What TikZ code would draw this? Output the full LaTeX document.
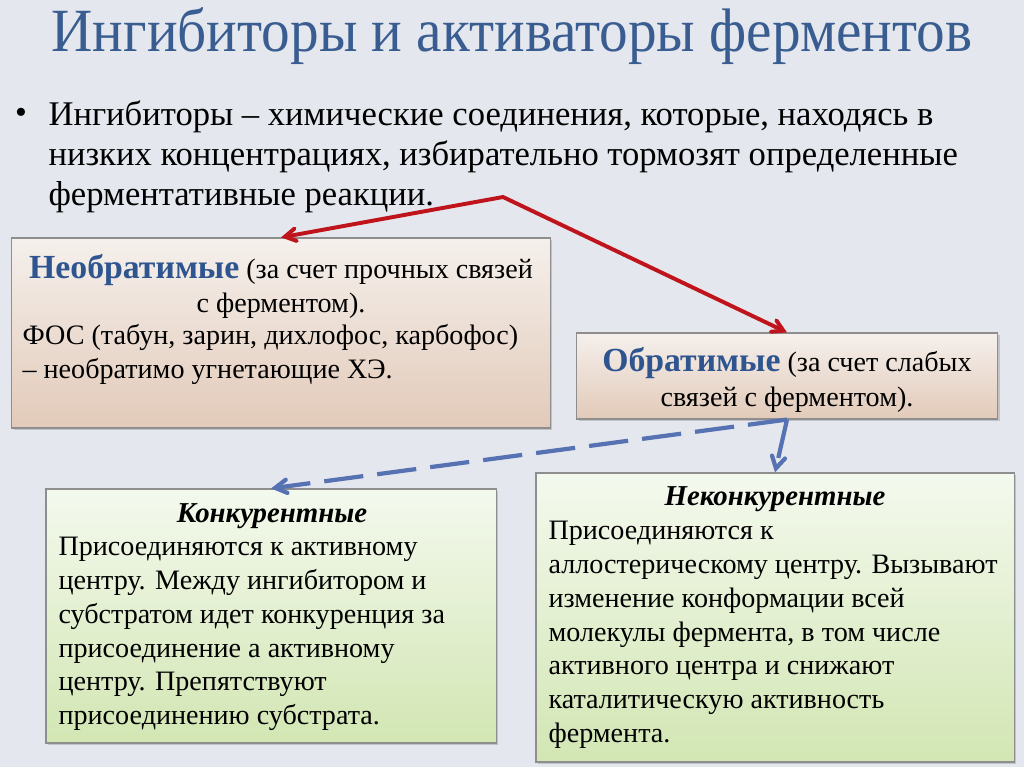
\documentclass[tikz,border=0pt]{standalone}
\usepackage{fontspec}
\setmainfont{Liberation Serif}
\usetikzlibrary{positioning,calc}
\usetikzlibrary{arrows}
\usetikzlibrary{shadows}

\definecolor{slidebg}{HTML}{E4E8EE}
\definecolor{titleblue}{HTML}{3A5D91}
\definecolor{headblue}{HTML}{2F5590}
\definecolor{boxgray}{HTML}{8E8E8E}
\definecolor{tantop}{HTML}{F5F0EC}
\definecolor{tanbot}{HTML}{E2CAB9}
\definecolor{greentop}{HTML}{F4F9EE}
\definecolor{greenbot}{HTML}{D2E6B3}
\definecolor{arrowred}{HTML}{C0141C}
\definecolor{arrowblue}{HTML}{5672B2}

\tikzset{
  tanbox/.style={draw=boxgray, top color=tantop, bottom color=tanbot,
    drop shadow={shadow xshift=1.5pt, shadow yshift=-1.5pt, opacity=0.35}},
  greenbox/.style={draw=boxgray, top color=greentop, bottom color=greenbot,
    drop shadow={shadow xshift=1.5pt, shadow yshift=-1.5pt, opacity=0.35}},
  boxtext/.style={inner sep=0pt, font=\fontsize{20}{24}\selectfont},
  subhead/.style={anchor=base, inner sep=0pt, font=\fontsize{20.5}{20.5}\selectfont\bfseries\itshape},
  redarrow/.style={<->, draw=arrowred, line width=2.8pt},
  bluearrow/.style={->, draw=arrowblue, line width=3pt, dash pattern=on 28pt off 10pt},
}
\newcommand{\kind}[1]{{\fontsize{24}{24}\selectfont\bfseries\color{headblue}#1}}

\begin{document}
\begin{tikzpicture}[x=0.025cm, y=-0.025cm, >=angle 60, thick]
\fill[slidebg] (0,0) rectangle (1024,767);

% title and definition
\node[anchor=base, inner sep=0pt, text=titleblue, font=\fontsize{42}{42}\selectfont] (title) at (512,52) {\scalebox{0.97}[1.04]{Ингибиторы и активаторы ферментов}};
\node[anchor=base, inner sep=0pt, font=\fontsize{24}{24}\selectfont] (bullet) at (21,124) {•};
\node[anchor=north west, inner sep=0pt, align=left, font=\fontsize{24.6}{28.45}\selectfont] (definition) at (48,100)
  {Ингибиторы – химические соединения, которые, находясь в\\
   низких концентрациях, избирательно тормозят определенные\\
   ферментативные реакции.};

% boxes
\node[tanbox, minimum width=13.45cm, minimum height=4.75cm] (irrev) at (281,333) {};
\node[tanbox, minimum width=10.525cm, minimum height=2.15cm] (rev) at (787,376) {};
\node[greenbox, minimum width=11.25cm, minimum height=6.35cm] (comp) at (271,616) {};
\node[greenbox, minimum width=11.95cm, minimum height=7.225cm] (noncomp) at (775,617.5) {};

% box texts
\node[boxtext, anchor=north, align=center] (irrevhead) at (281,254)
  {\kind{Необратимые} (за счет прочных связей\\ с ферментом).};
\node[boxtext, anchor=north west, align=left] (irrevtext) at (22,324)
  {ФОС (табун, зарин, дихлофос, карбофос)\\ – необратимо угнетающие ХЭ.};
\node[boxtext, anchor=north, align=center, font=\fontsize{20}{25}\selectfont] (revhead) at (787,347)
  {\kind{Обратимые} (за счет слабых\\ связей с ферментом).};

\node[subhead] (comphead) at (272,522) {Конкурентные};
\node[boxtext, anchor=north west, align=left] (comptext) at (58,537)
  {Присоединяются к активному\\ центру. Между ингибитором и\\ субстратом идет конкуренция за\\
   присоединение а активному\\ центру. Препятствуют\\ присоединению субстрата.};

\node[subhead] (noncomphead) at (775,505) {Неконкурентные};
\node[boxtext, anchor=north west, align=left] (noncomptext) at (548,521)
  {Присоединяются к\\ аллостерическому центру. Вызывают\\ изменение конформации всей\\
   молекулы фермента, в том числе\\ активного центра и снижают\\ каталитическую активность\\ фермента.};

% connectors
\coordinate (apex) at (503,197);
\draw[redarrow] (irrev.north) -- (apex) -- (rev.north);
\draw[bluearrow] (rev.south) -- (comp.north);
\draw[bluearrow] (rev.south) -- (noncomp.north);
\end{tikzpicture}
\end{document}
